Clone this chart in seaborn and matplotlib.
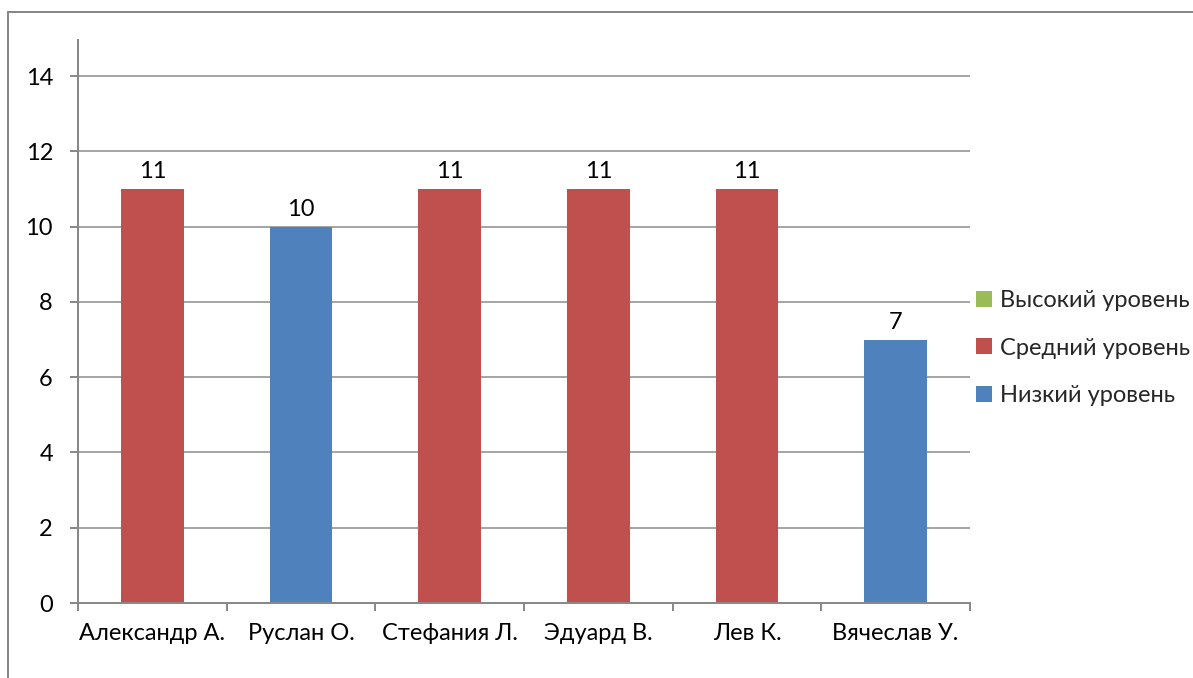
import matplotlib
matplotlib.use("Agg")
import matplotlib.pyplot as plt
from matplotlib.patches import Patch
from matplotlib.lines import Line2D
import seaborn as sns
import pandas as pd

# Students, their scores and the level each score falls into
names = ["Александр А.", "Руслан О.", "Стефания Л.", "Эдуард В.", "Лев К.", "Вячеслав У."]
scores = [11, 10, 11, 11, 11, 7]
levels = ["Средний уровень", "Низкий уровень", "Средний уровень",
          "Средний уровень", "Средний уровень", "Низкий уровень"]
level_order = ["Высокий уровень", "Средний уровень", "Низкий уровень"]
level_colors = ["#9BBB59", "#C0504D", "#4F81BD"]
y_ticks = [0, 2, 4, 6, 8, 10, 12, 14]

sns.set_theme(style="white")
plt.rcParams["font.family"] = ["Lato", "DejaVu Sans"]

PX = 0.72  # points per pixel at dpi=100
W, H = 1193, 678
fig = plt.figure(figsize=(W / 100, H / 100), dpi=100)
ax = fig.add_axes([78 / W, 1 - 603 / H, (970 - 78) / W, (603 - 40) / H])

df = pd.DataFrame({"name": names, "score": scores, "level": levels})
palette = dict(zip(level_order, level_colors))
sns.barplot(data=df, x="name", y="score", hue="level", hue_order=level_order,
            palette=palette, dodge=False, width=0.42, saturation=1,
            legend=False, ax=ax, linewidth=0)

grid_c = "#898989"
ax.set_ylim(0, 14.96)
ax.set_xlim(-0.5, len(names) - 0.5)
ax.set_yticks(y_ticks)
ax.yaxis.grid(True, color=grid_c, linewidth=1.5 * PX)
ax.set_axisbelow(True)
for s in ["top", "right"]:
    ax.spines[s].set_visible(False)
for s in ["left", "bottom"]:
    ax.spines[s].set_color(grid_c)
    ax.spines[s].set_linewidth(2 * PX)

# category boundaries carry the x tick marks, labels sit at centres
ax.set_xticks([i - 0.5 for i in range(len(names) + 1)], minor=True)
ax.tick_params(axis="x", which="minor", length=8 * PX, width=2 * PX,
               color=grid_c, direction="out", bottom=True)
ax.tick_params(axis="x", which="major", length=0, pad=20 * PX,
               labelsize=17, labelcolor="black")
ax.tick_params(axis="y", length=8 * PX, width=2 * PX, color=grid_c,
               direction="out", left=True, pad=17 * PX,
               labelsize=17, labelcolor="black")
ax.set_xlabel("")
ax.set_ylabel("")

# value labels above each bar
for i, v in enumerate(scores):
    ax.annotate(str(v), (i, v), xytext=(0, 7 * PX), textcoords="offset points",
                ha="center", va="bottom", fontsize=17, color="black")

handles = [Patch(facecolor=c, edgecolor="none", label=l)
           for l, c in zip(level_order, level_colors)]
fig.legend(handles=handles, loc="center left", bbox_to_anchor=(967 / W, 1 - 348 / H),
           frameon=False, fontsize=17, handlelength=0.65, handleheight=0.65,
           handletextpad=0.35, labelspacing=1.12, borderaxespad=0)

# chart area border
bc = "#878787"
fig.add_artist(Line2D([8 / W, 8 / W], [0, 1 - 12 / H], transform=fig.transFigure,
                      color=bc, linewidth=2 * PX))
fig.add_artist(Line2D([8 / W, 1], [1 - 12 / H, 1 - 12 / H], transform=fig.transFigure,
                      color=bc, linewidth=2 * PX))

fig.savefig("out.png", dpi=100, facecolor="white")
